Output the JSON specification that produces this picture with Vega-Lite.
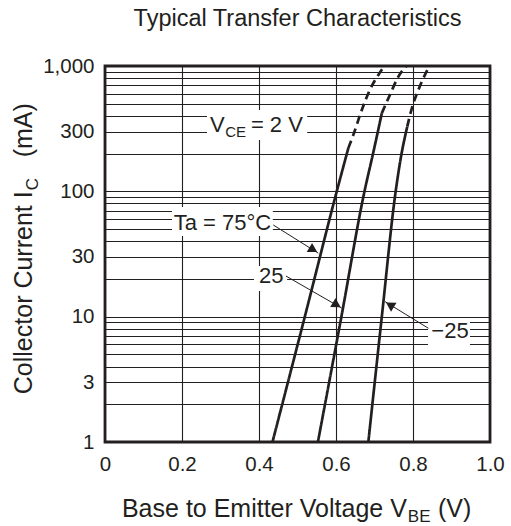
{
  "$schema": "https://vega.github.io/schema/vega-lite/v6.json",
  "width": 385,
  "height": 376,
  "autosize": "none",
  "padding": {"left": 105, "top": 66, "right": 21, "bottom": 84},
  "title": {"text": "Typical Transfer Characteristics", "fontSize": 23.5, "fontWeight": "normal", "color": "#231f20", "anchor": "middle", "offset": 26, "font": "Liberation Sans"},
  "config": {
    "font": "Liberation Sans",
    "view": {"stroke": "#231f20", "strokeWidth": 2.8},
    "axis": {"grid": true, "gridColor": "#231f20", "gridWidth": 1.1, "gridOpacity": 1, "ticks": false, "domain": false, "labelFontSize": 20.5, "labelColor": "#231f20", "title": null}
  },
  "datasets": {
    "curves": [
      {"s": "75", "part": "solid", "v": 0.435, "i": 1},
      {"s": "75", "part": "solid", "v": 0.519, "i": 10},
      {"s": "75", "part": "solid", "v": 0.602, "i": 100},
      {"s": "75", "part": "solid", "v": 0.632, "i": 221},
      {"s": "75", "part": "dashed", "v": 0.632, "i": 221},
      {"s": "75", "part": "dashed", "v": 0.645, "i": 282},
      {"s": "75", "part": "dashed", "v": 0.667, "i": 446},
      {"s": "75", "part": "dashed", "v": 0.688, "i": 645},
      {"s": "75", "part": "dashed", "v": 0.710, "i": 849},
      {"s": "75", "part": "dashed", "v": 0.726, "i": 1000},
      {"s": "25", "part": "solid", "v": 0.553, "i": 1},
      {"s": "25", "part": "solid", "v": 0.614, "i": 10},
      {"s": "25", "part": "solid", "v": 0.674, "i": 100},
      {"s": "25", "part": "solid", "v": 0.697, "i": 205},
      {"s": "25", "part": "solid", "v": 0.719, "i": 420},
      {"s": "25", "part": "dashed", "v": 0.719, "i": 420},
      {"s": "25", "part": "dashed", "v": 0.740, "i": 588},
      {"s": "25", "part": "dashed", "v": 0.762, "i": 823},
      {"s": "25", "part": "dashed", "v": 0.783, "i": 1000},
      {"s": "-25", "part": "solid", "v": 0.684, "i": 1},
      {"s": "-25", "part": "solid", "v": 0.719, "i": 10},
      {"s": "-25", "part": "solid", "v": 0.755, "i": 100},
      {"s": "-25", "part": "solid", "v": 0.769, "i": 190},
      {"s": "-25", "part": "solid", "v": 0.785, "i": 328},
      {"s": "-25", "part": "dashed", "v": 0.785, "i": 328},
      {"s": "-25", "part": "dashed", "v": 0.797, "i": 460},
      {"s": "-25", "part": "dashed", "v": 0.814, "i": 645},
      {"s": "-25", "part": "dashed", "v": 0.831, "i": 849},
      {"s": "-25", "part": "dashed", "v": 0.843, "i": 1000}
    ],
    "boxes": [
      {"v1": 0.265, "v2": 0.525, "i1": 257, "i2": 446},
      {"v1": 0.174, "v2": 0.436, "i1": 44.1, "i2": 75.1},
      {"v1": 0.387, "v2": 0.473, "i1": 16.0, "i2": 25.4},
      {"v1": 0.839, "v2": 0.948, "i1": 5.84, "i2": 9.77}
    ],
    "labels": [
      {"label": "Ta = 75°C", "v": 0.305, "i": 49.2},
      {"label": "25", "v": 0.432, "i": 18.5},
      {"label": "−25", "v": 0.896, "i": 6.72}
    ],
    "arrows": [
      {"v": 0.437, "i": 53.9, "v2": 0.554, "i2": 32.1},
      {"v": 0.470, "i": 21.1, "v2": 0.615, "i2": 11.7},
      {"v": 0.840, "i": 8.08, "v2": 0.727, "i2": 13.2}
    ],
    "headsA": [
      {"v": 0.541, "i": 34.2},
      {"v": 0.602, "i": 12.4}
    ],
    "headsB": [
      {"v": 0.740, "i": 12.4}
    ]
  },
  "layer": [
    {
      "data": {"name": "boxes"},
      "mark": {"type": "rect", "fill": "white", "stroke": null},
      "encoding": {
        "x": {"field": "v1", "type": "quantitative", "scale": {"domain": [0, 1]},
          "axis": {"values": [0, 0.1, 0.2, 0.3, 0.4, 0.5, 0.6, 0.7, 0.8, 0.9, 1], "labelExpr": "datum.value == 0 ? '0' : (round(datum.value*10) % 2 == 0 ? format(datum.value, '.1f') : '')", "labelPadding": 12, "labelFlush": false}},
        "x2": {"field": "v2"},
        "y": {"field": "i1", "type": "quantitative", "scale": {"type": "log", "domain": [1, 1000], "nice": false},
          "axis": {"values": [1, 2, 3, 4, 5, 6, 7, 8, 9, 10, 20, 30, 40, 50, 60, 70, 80, 90, 100, 200, 300, 400, 500, 600, 700, 800, 900, 1000], "labelExpr": "indexof([1,3,10,30,100,300,1000], datum.value) >= 0 ? format(datum.value, ',') : ''", "labelPadding": 11}},
        "y2": {"field": "i2"}
      }
    },
    {
      "data": {"name": "curves"},
      "mark": {"type": "line", "interpolate": "monotone", "strokeWidth": 2.7, "color": "#231f20"},
      "encoding": {
        "x": {"field": "v", "type": "quantitative"},
        "y": {"field": "i", "type": "quantitative"},
        "detail": {"field": "s"},
        "strokeDash": {"field": "part", "type": "nominal", "scale": {"domain": ["solid", "dashed"], "range": [[1, 0], [8, 5]]}, "legend": null}
      }
    },
    {
      "data": {"name": "arrows"},
      "mark": {"type": "rule", "strokeWidth": 1, "color": "#231f20"},
      "encoding": {
        "x": {"field": "v", "type": "quantitative"},
        "y": {"field": "i", "type": "quantitative"},
        "x2": {"field": "v2"},
        "y2": {"field": "i2"}
      }
    },
    {
      "data": {"name": "headsA"},
      "mark": {"type": "point", "shape": "triangle-right", "size": 110, "angle": 31, "filled": true, "color": "#231f20", "opacity": 1},
      "encoding": {
        "x": {"field": "v", "type": "quantitative"},
        "y": {"field": "i", "type": "quantitative"}
      }
    },
    {
      "data": {"name": "headsB"},
      "mark": {"type": "point", "shape": "triangle-right", "size": 110, "angle": 211.6, "filled": true, "color": "#231f20", "opacity": 1},
      "encoding": {
        "x": {"field": "v", "type": "quantitative"},
        "y": {"field": "i", "type": "quantitative"}
      }
    },
    {
      "data": {"name": "labels"},
      "mark": {"type": "text", "fontSize": 22, "align": "center", "baseline": "alphabetic", "color": "#231f20"},
      "encoding": {
        "x": {"field": "v", "type": "quantitative"},
        "y": {"field": "i", "type": "quantitative"},
        "text": {"field": "label"}
      }
    },
    {
      "data": {"values": [{}]},
      "layer": [
        {"mark": {"type": "text", "text": "V", "fontSize": 22, "align": "right", "baseline": "alphabetic", "color": "#231f20"},
         "encoding": {"x": {"datum": 0.311, "type": "quantitative"}, "y": {"datum": 300, "type": "quantitative"}}},
        {"mark": {"type": "text", "text": "CE", "fontSize": 15, "align": "left", "baseline": "alphabetic", "dx": 0.5, "dy": 5.5, "color": "#231f20"},
         "encoding": {"x": {"datum": 0.311, "type": "quantitative"}, "y": {"datum": 300, "type": "quantitative"}}},
        {"mark": {"type": "text", "text": "= 2 V", "fontSize": 22, "align": "left", "baseline": "alphabetic", "color": "#231f20"},
         "encoding": {"x": {"datum": 0.379, "type": "quantitative"}, "y": {"datum": 300, "type": "quantitative"}}},
        {"mark": {"type": "text", "text": "Base to Emitter Voltage  V", "fontSize": 25, "align": "right", "baseline": "alphabetic", "dy": 75, "color": "#231f20"},
         "encoding": {"x": {"datum": 0.784, "type": "quantitative"}, "y": {"datum": 1, "type": "quantitative"}}},
        {"mark": {"type": "text", "text": "BE", "fontSize": 17, "align": "left", "baseline": "alphabetic", "dx": 1, "dy": 80, "color": "#231f20"},
         "encoding": {"x": {"datum": 0.784, "type": "quantitative"}, "y": {"datum": 1, "type": "quantitative"}}},
        {"mark": {"type": "text", "text": "(V)", "fontSize": 25, "align": "left", "baseline": "alphabetic", "dy": 75, "color": "#231f20"},
         "encoding": {"x": {"datum": 0.865, "type": "quantitative"}, "y": {"datum": 1, "type": "quantitative"}}},
        {"mark": {"type": "text", "text": "Collector Current  I", "fontSize": 25, "angle": 270, "align": "right", "baseline": "alphabetic", "dy": -73, "color": "#231f20"},
         "encoding": {"x": {"datum": 0, "type": "quantitative"}, "y": {"datum": 100, "type": "quantitative"}}},
        {"mark": {"type": "text", "text": "C", "fontSize": 17, "angle": 270, "align": "left", "baseline": "alphabetic", "dx": 1, "dy": -67, "color": "#231f20"},
         "encoding": {"x": {"datum": 0, "type": "quantitative"}, "y": {"datum": 100, "type": "quantitative"}}},
        {"mark": {"type": "text", "text": "(mA)", "fontSize": 25, "angle": 270, "align": "left", "baseline": "alphabetic", "dx": 34, "dy": -73, "color": "#231f20"},
         "encoding": {"x": {"datum": 0, "type": "quantitative"}, "y": {"datum": 100, "type": "quantitative"}}}
      ]
    }
  ]
}
